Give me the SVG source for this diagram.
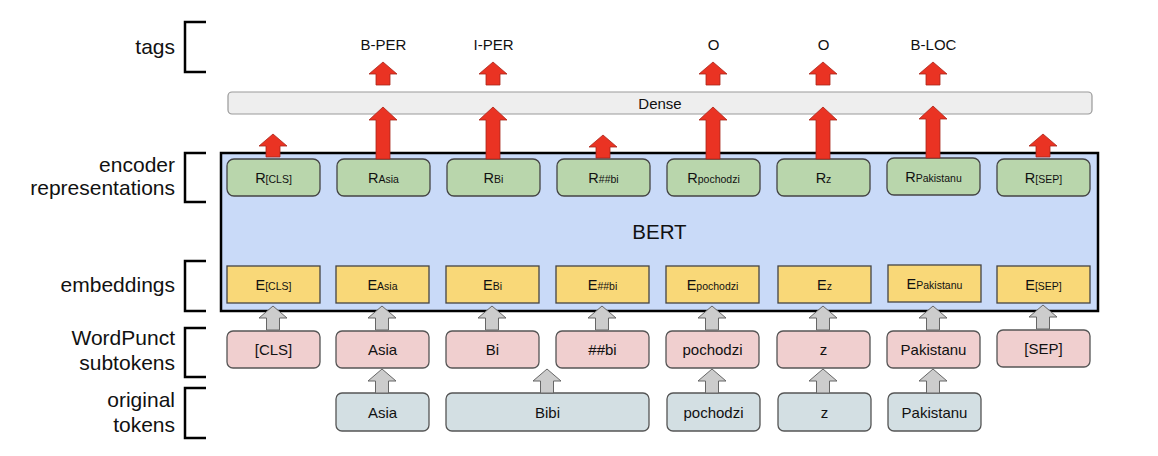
<svg xmlns="http://www.w3.org/2000/svg" width="1158" height="456" viewBox="0 0 1158 456">
<style>
text{font-family:"Liberation Sans",Arial,sans-serif;fill:#111}
.lab{font-size:21px;text-anchor:end}
.tag{font-size:15px;text-anchor:middle}
.bt{font-size:15px;text-anchor:middle}
.big{font-size:14.5px}
.sub{font-size:10.5px}
.br{fill:none;stroke:#000;stroke-width:2.5}
.r{fill:#b9d6ac;stroke:#444;stroke-width:1.3}
.e{fill:#f9d878;stroke:#444;stroke-width:1.3}
.s{fill:#f0cfcf;stroke:#555;stroke-width:1.3}
.o{fill:#d3dfe3;stroke:#555;stroke-width:1.3}
.red{fill:#ea3323;stroke:#a8261b;stroke-width:0.8}
.gray{fill:#cccccc;stroke:#666;stroke-width:1}
</style>
<defs>
<path id="rs" d="M0,0 L14,12 L7,12 L7,23 L-7,23 L-7,12 L-14,12 Z"/>
<path id="rb" d="M0,0 L14,13 L7,13 L7,52 L-7,52 L-7,13 L-14,13 Z"/>
<path id="ga" d="M0,0 L14,12 L6.5,12 L6.5,24 L-6.5,24 L-6.5,12 L-14,12 Z"/>
</defs>

<g id="labels">
<text class="lab" x="175" y="54">tags</text>
<text class="lab" x="175" y="172">encoder</text>
<text class="lab" x="175" y="195">representations</text>
<text class="lab" x="175" y="292">embeddings</text>
<text class="lab" x="175" y="345">WordPunct</text>
<text class="lab" x="175" y="370">subtokens</text>
<text class="lab" x="175" y="407">original</text>
<text class="lab" x="175" y="432">tokens</text>
<path class="br" d="M206,22 H185 V72 H206"/>
<path class="br" d="M206,153 H185 V202 H206"/>
<path class="br" d="M206,261 H185 V311 H206"/>
<path class="br" d="M206,328 H185 V377 H206"/>
<path class="br" d="M206,388 H185 V438 H206"/>
</g>

<g id="tags">
<text class="tag" x="383.5" y="50">B-PER</text>
<text class="tag" x="493.5" y="50">I-PER</text>
<text class="tag" x="713.5" y="50">O</text>
<text class="tag" x="823.5" y="50">O</text>
<text class="tag" x="933.5" y="50">B-LOC</text>
</g>

<g id="dense">
<rect x="228" y="92" width="864" height="22" rx="4" fill="#eeeeee" stroke="#999" stroke-width="1.2"/>
<text class="bt" x="660" y="109">Dense</text>
</g>

<g id="bert">
<rect x="221" y="153" width="877" height="158" fill="#c9daf8" stroke="#000" stroke-width="2.5"/>
<text x="659.5" y="239" font-size="20.5" text-anchor="middle">BERT</text>
</g>

<g id="encoder">
<g id="r0"><rect class="r" x="227" y="159" width="93" height="37" rx="7"/><text x="273.5" y="183" text-anchor="middle"><tspan class="big">R</tspan><tspan class="sub">[CLS]</tspan></text></g>
<g id="r1"><rect class="r" x="337" y="159" width="93" height="37" rx="7"/><text x="383.5" y="183" text-anchor="middle"><tspan class="big">R</tspan><tspan class="sub">Asia</tspan></text></g>
<g id="r2"><rect class="r" x="447" y="159" width="93" height="37" rx="7"/><text x="493.5" y="183" text-anchor="middle"><tspan class="big">R</tspan><tspan class="sub">Bi</tspan></text></g>
<g id="r3"><rect class="r" x="557" y="159" width="93" height="37" rx="7"/><text x="603.5" y="183" text-anchor="middle"><tspan class="big">R</tspan><tspan class="sub">##bi</tspan></text></g>
<g id="r4"><rect class="r" x="667" y="159" width="93" height="37" rx="7"/><text x="713.5" y="183" text-anchor="middle"><tspan class="big">R</tspan><tspan class="sub">pochodzi</tspan></text></g>
<g id="r5"><rect class="r" x="777" y="159" width="93" height="37" rx="7"/><text x="823.5" y="183" text-anchor="middle"><tspan class="big">R</tspan><tspan class="sub">z</tspan></text></g>
<g id="r6"><rect class="r" x="887" y="158" width="93" height="37" rx="7"/><text x="933.5" y="182" text-anchor="middle"><tspan class="big">R</tspan><tspan class="sub">Pakistanu</tspan></text></g>
<g id="r7"><rect class="r" x="997" y="159" width="93" height="37" rx="7"/><text x="1043.5" y="183" text-anchor="middle"><tspan class="big">R</tspan><tspan class="sub">[SEP]</tspan></text></g>
</g>

<g id="embeddings">
<g id="e0"><rect class="e" x="227" y="266" width="93" height="37"/><text x="273.5" y="290" text-anchor="middle"><tspan class="big">E</tspan><tspan class="sub">[CLS]</tspan></text></g>
<g id="e1"><rect class="e" x="336" y="266" width="93" height="37"/><text x="382.5" y="290" text-anchor="middle"><tspan class="big">E</tspan><tspan class="sub">Asia</tspan></text></g>
<g id="e2"><rect class="e" x="446" y="266" width="93" height="37"/><text x="492.5" y="290" text-anchor="middle"><tspan class="big">E</tspan><tspan class="sub">Bi</tspan></text></g>
<g id="e3"><rect class="e" x="556" y="266" width="93" height="37"/><text x="602.5" y="290" text-anchor="middle"><tspan class="big">E</tspan><tspan class="sub">##bi</tspan></text></g>
<g id="e4"><rect class="e" x="666" y="266" width="93" height="37"/><text x="712.5" y="290" text-anchor="middle"><tspan class="big">E</tspan><tspan class="sub">pochodzi</tspan></text></g>
<g id="e5"><rect class="e" x="778" y="266" width="93" height="37"/><text x="824.5" y="290" text-anchor="middle"><tspan class="big">E</tspan><tspan class="sub">z</tspan></text></g>
<g id="e6"><rect class="e" x="888" y="265" width="93" height="37"/><text x="934.5" y="289" text-anchor="middle"><tspan class="big">E</tspan><tspan class="sub">Pakistanu</tspan></text></g>
<g id="e7"><rect class="e" x="997" y="266" width="93" height="37"/><text x="1043.5" y="290" text-anchor="middle"><tspan class="big">E</tspan><tspan class="sub">[SEP]</tspan></text></g>
</g>

<g id="subtokens">
<g id="s0"><rect class="s" x="227" y="331" width="93" height="37" rx="6"/><text class="bt" x="273.5" y="355">[CLS]</text></g>
<g id="s1"><rect class="s" x="336" y="331" width="93" height="37" rx="6"/><text class="bt" x="382.5" y="355">Asia</text></g>
<g id="s2"><rect class="s" x="446" y="331" width="93" height="37" rx="6"/><text class="bt" x="492.5" y="355">Bi</text></g>
<g id="s3"><rect class="s" x="556" y="331" width="93" height="37" rx="6"/><text class="bt" x="602.5" y="355">##bi</text></g>
<g id="s4"><rect class="s" x="666" y="331" width="93" height="37" rx="6"/><text class="bt" x="712.5" y="355">pochodzi</text></g>
<g id="s5"><rect class="s" x="777" y="331" width="93" height="37" rx="6"/><text class="bt" x="823.5" y="355">z</text></g>
<g id="s6"><rect class="s" x="887" y="331" width="93" height="37" rx="6"/><text class="bt" x="933.5" y="355">Pakistanu</text></g>
<g id="s7"><rect class="s" x="997" y="330" width="93" height="37" rx="6"/><text class="bt" x="1043.5" y="354">[SEP]</text></g>
</g>

<g id="tokens">
<g id="t1"><rect class="o" x="336" y="393" width="93" height="38" rx="6"/><text class="bt" x="382.5" y="418">Asia</text></g>
<g id="t2"><rect class="o" x="446" y="393" width="203" height="38" rx="6"/><text class="bt" x="547.5" y="418">Bibi</text></g>
<g id="t3"><rect class="o" x="667" y="393" width="93" height="38" rx="6"/><text class="bt" x="713.5" y="418">pochodzi</text></g>
<g id="t4"><rect class="o" x="778" y="393" width="93" height="38" rx="6"/><text class="bt" x="824.5" y="418">z</text></g>
<g id="t5"><rect class="o" x="888" y="393" width="93" height="38" rx="6"/><text class="bt" x="934.5" y="418">Pakistanu</text></g>
</g>

<g id="connectors">
<use href="#rs" class="red" x="383" y="62"/>
<use href="#rs" class="red" x="493" y="62"/>
<use href="#rs" class="red" x="713" y="62"/>
<use href="#rs" class="red" x="823" y="62"/>
<use href="#rs" class="red" x="933" y="62"/>
<use href="#rs" class="red" x="273" y="134"/>
<use href="#rs" class="red" x="603" y="135"/>
<use href="#rs" class="red" x="1043" y="134"/>
<use href="#rb" class="red" x="383" y="107"/>
<use href="#rb" class="red" x="493" y="107"/>
<use href="#rb" class="red" x="713" y="107"/>
<use href="#rb" class="red" x="823" y="107"/>
<use href="#rb" class="red" x="933" y="106"/>
<use href="#ga" class="gray" x="273" y="306"/>
<use href="#ga" class="gray" x="382" y="306"/>
<use href="#ga" class="gray" x="492" y="306"/>
<use href="#ga" class="gray" x="602" y="306"/>
<use href="#ga" class="gray" x="712" y="306"/>
<use href="#ga" class="gray" x="823" y="306"/>
<use href="#ga" class="gray" x="933" y="306"/>
<use href="#ga" class="gray" x="1043" y="305"/>
<use href="#ga" class="gray" x="382" y="369"/>
<use href="#ga" class="gray" x="547" y="369"/>
<use href="#ga" class="gray" x="712" y="369"/>
<use href="#ga" class="gray" x="823" y="369"/>
<use href="#ga" class="gray" x="933" y="369"/>
</g>
</svg>
